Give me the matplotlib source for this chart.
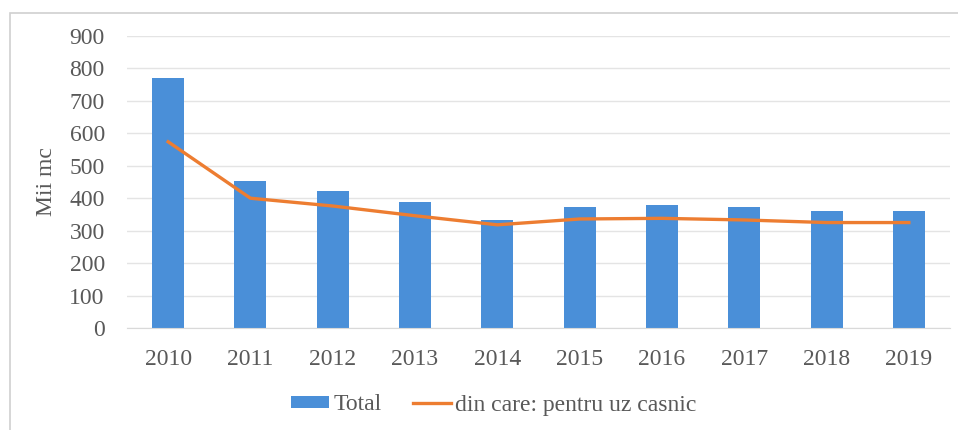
import matplotlib
matplotlib.use("Agg")
import matplotlib.pyplot as plt
from matplotlib.patches import Rectangle, Patch
from matplotlib.lines import Line2D

years = ["2010", "2011", "2012", "2013", "2014", "2015", "2016", "2017", "2018", "2019"]
total = [770, 453, 423, 389, 333, 372, 379, 372, 362, 362]
casnic = [574, 400, 376, 346, 318, 336, 338, 333, 325, 325]
y_ticks = [0, 100, 200, 300, 400, 500, 600, 700, 800, 900]

bar_color = "#4A8FD8"
line_color = "#ED7D31"
text_color = "#595959"
grid_color = "#E4E4E4"

plt.rcParams["font.family"] = ["Liberation Serif", "DejaVu Serif"]

W, H = 958, 430
fig = plt.figure(figsize=(W / 100, H / 100), dpi=100)
fig.patch.set_facecolor("white")

# outer chart frame
fig.patches.append(Rectangle((10 / W, -0.1), 1.2, 1 - 13 / H + 0.1,
                             transform=fig.transFigure, fill=False,
                             edgecolor="#D0D0D0", linewidth=1.2))

ax = fig.add_axes([127 / W, 102 / H, (950 - 127) / W, (328 - 36) / H])
x = range(len(years))
ax.bar(x, total, width=0.39, color=bar_color, zorder=2)
ax.plot(x, casnic, color=line_color, linewidth=2.4, zorder=3)

ax.set_xlim(-0.5, len(years) - 0.5)
ax.set_ylim(0, 900)
ax.set_yticks(y_ticks)
ax.set_xticks(list(x))
ax.set_xticklabels(years)
ax.yaxis.grid(True, color=grid_color, linewidth=1.0, zorder=0)
ax.set_axisbelow(True)
for s in ax.spines.values():
    s.set_visible(False)
ax.spines["bottom"].set_visible(True)
ax.spines["bottom"].set_color("#D9D9D9")
ax.tick_params(axis="both", length=0, labelsize=17, colors=text_color)
ax.tick_params(axis="y", pad=16)
ax.tick_params(axis="x", pad=15)
ax.set_ylabel("Mii mc", fontsize=17, color=text_color)
ax.yaxis.set_label_coords(-(127 - 57) / (950 - 127), 0.5)

handles = [Patch(facecolor=bar_color, edgecolor="none"),
           Line2D([0], [0], color=line_color, linewidth=2.4)]
fig.legend(handles, ["Total", "din care: pentru uz casnic"],
           loc="center", bbox_to_anchor=(494 / W, 1 - 405 / H), ncol=2,
           frameon=False, fontsize=17, labelcolor=text_color,
           handlelength=1.6, handleheight=0.45, handletextpad=0.2,
           columnspacing=1.3)

fig.savefig("out.png", dpi=100, facecolor="white")
